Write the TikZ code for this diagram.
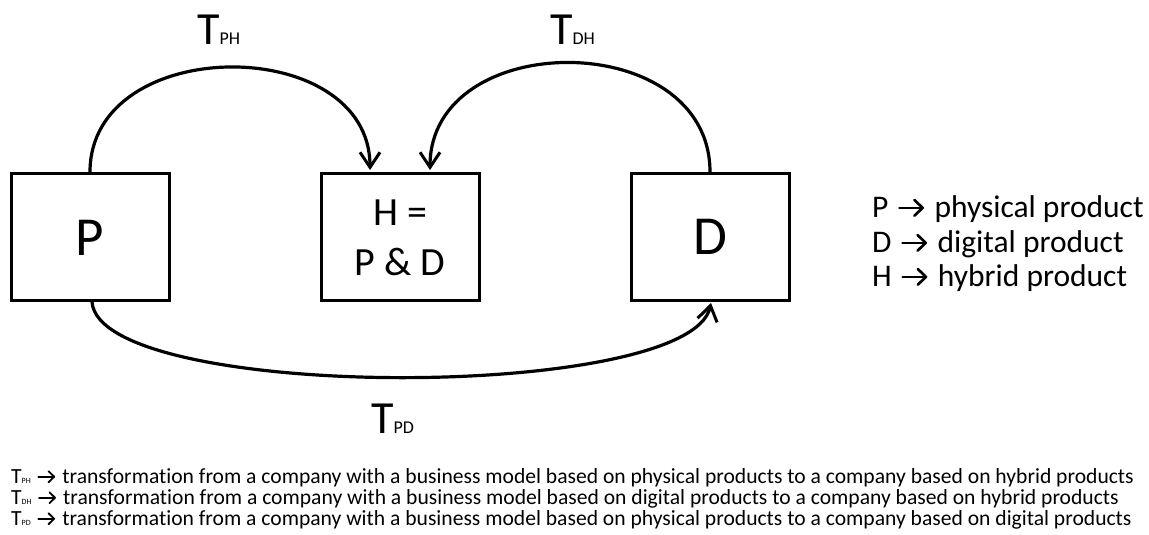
\documentclass[tikz,border=0pt]{standalone}
\usepackage{fontspec}
\setmainfont{Carlito}[Ligatures=NoCommon]
\usetikzlibrary{arrows.meta}
\newcommand{\rarr}{\hspace{0.08em}\tikz[baseline=0pt,x=1em,y=1em]{\useasboundingbox (0,0) rectangle (0.85,0.6);\draw[line width=0.085em, line cap=round, -{Straight Barb[length=0.26em,width=0.5em,line width=0.085em, round]}] (0.04,0.29) -- (0.82,0.29);}\hspace{0.08em}}
\tikzset{
  prodbox/.style={draw, line width=3pt, minimum width=158pt, minimum height=127pt, inner sep=0pt},
  trans/.style={line width=3.2pt, -{Straight Barb[length=15pt,width=20pt,line width=3pt]}},
  lbl/.style={inner sep=0pt, anchor=base west},
}
\begin{document}
\begin{tikzpicture}[x=1pt,y=-1pt]
\useasboundingbox (0,0) rectangle (1149,535);
\node[prodbox] (P) at (90.5,237) {};
\node[prodbox] (H) at (400.5,237) {};
\node[prodbox] (D) at (710,237) {};
\node[inner sep=0pt, anchor=base, font=\fontsize{55}{60}\selectfont] (Pt) at (90,255) {P};
\node[inner sep=0pt, anchor=base, font=\fontsize{55}{60}\selectfont] (Dt) at (710,254) {D};
\node[inner sep=0pt, anchor=base, font=\fontsize{40}{48}\selectfont] (Ht1) at (400,225) {H =};
\node[inner sep=0pt, anchor=base, font=\fontsize{40}{48}\selectfont] (Ht2) at (400,275) {P \& D};
\coordinate (ph1) at (90,172);
\coordinate (ph2) at (370,170);
\coordinate (dh1) at (710,172);
\coordinate (dh2) at (430,170);
\coordinate (pd1) at (92,302);
\coordinate (pd2) at (711,303);
\draw[trans] (ph1) .. controls (90,33) and (370,33) .. (ph2);
\draw[trans] (dh1) .. controls (710,27) and (430,27) .. (dh2);
\draw[trans] (pd1) .. controls (100,402) and (690,402) .. (pd2);
\node[lbl] (tph) at (197,45) {\fontsize{46}{50}\selectfont T\fontsize{18}{20}\selectfont PH};
\node[lbl] (tdh) at (550,45) {\fontsize{46}{50}\selectfont T\fontsize{18}{20}\selectfont DH};
\node[lbl] (tpd) at (371,433) {\fontsize{46}{50}\selectfont T\fontsize{18}{20}\selectfont PD};
\node[lbl, font=\fontsize{31.5}{34}\selectfont] (l1) at (872,217) {P \rarr{} physical product};
\node[lbl, font=\fontsize{31.5}{34}\selectfont] (l2) at (872,252) {D \rarr{} digital product};
\node[lbl, font=\fontsize{31.5}{34}\selectfont] (l3) at (872,286) {H \rarr{} hybrid product};
\node[lbl, font=\fontsize{21.6}{22}\selectfont] (b1) at (11,483) {T{\fontsize{8}{9}\selectfont PH} \rarr{} transformation from a company with a business model based on physical products to a company based on hybrid products};
\node[lbl, font=\fontsize{21.6}{22}\selectfont] (b2) at (11,504) {T{\fontsize{8}{9}\selectfont DH} \rarr{} transformation from a company with a business model based on digital products to a company based on hybrid products};
\node[lbl, font=\fontsize{21.6}{22}\selectfont] (b3) at (11,525) {T{\fontsize{8}{9}\selectfont PD} \rarr{} transformation from a company with a business model based on physical products to a company based on digital products};
\end{tikzpicture}
\end{document}
